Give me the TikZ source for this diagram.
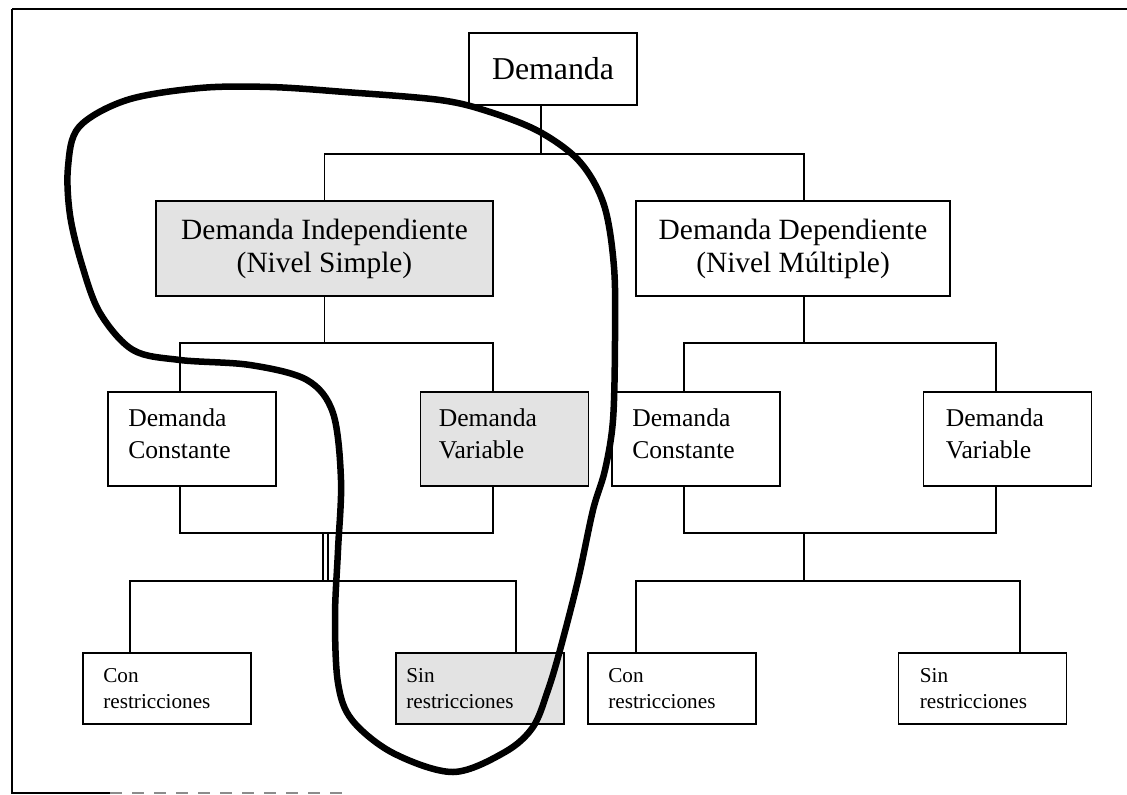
\documentclass[tikz,border=0pt]{standalone}
\usepackage{fontspec}
\setmainfont{Liberation Serif}
\usetikzlibrary{calc}
\tikzset{
  box/.style={draw=black, line width=1.7pt, inner sep=0pt, fill=white},
  shaded/.style={fill=black!11},
  conn/.style={draw=black, line width=1.5pt},
  txtA/.style={font=\fontsize{31.8}{38}\selectfont},
  txtB/.style={font=\fontsize{29.4}{33}\selectfont, align=center},
  txtC/.style={font=\fontsize{25.6}{32}\selectfont, align=left, inner sep=0pt, anchor=north west},
  txtD/.style={font=\fontsize{21.2}{25.5}\selectfont, align=left, inner sep=0pt, anchor=north west},
  lvlC/.style={box, minimum width=168pt, minimum height=94pt},
  lvlD/.style={box, minimum width=168pt, minimum height=71pt},
  loop/.style={draw=black, line width=6.5pt, line join=round}
}
\begin{document}
\begin{tikzpicture}[x=1pt, y=-1pt]
\useasboundingbox (0,0) rectangle (1127,795);
% frame
\draw[line width=1.8pt] (12,9) -- (1127,9);
\draw[line width=1.8pt] (12,9) -- (12,793) -- (110,793);
\draw[line width=1.5pt, black!45, dash pattern=on 12pt off 10pt] (110,793) -- (350,793);

% level 1
\node[box, minimum width=168pt, minimum height=72pt, txtA] (dem) at (553,69) {Demanda};
% level 2
\node[box, shaded, minimum width=337pt, minimum height=95pt, txtB] (di) at (324.5,248.5) {Demanda Independiente\\(Nivel Simple)};
\node[box, minimum width=314pt, minimum height=95pt, txtB] (dd) at (793,248.5) {Demanda Dependiente\\(Nivel Múltiple)};
% level 3
\node[lvlC] (dc1) at (192,439) {};
\node[lvlC, shaded] (dv1) at (504.5,439) {};
\node[lvlC] (dc2) at (696,439) {};
\node[lvlC] (dv2) at (1007.5,439) {};
\node[txtC] (dc1t) at ($(dc1.north west)+(21,17.5)$) {Demanda\\Constante};
\node[txtC] (dv1t) at ($(dv1.north west)+(19,17.5)$) {Demanda\\Variable};
\node[txtC] (dc2t) at ($(dc2.north west)+(21,17.5)$) {Demanda\\Constante};
\node[txtC] (dv2t) at ($(dv2.north west)+(23,17.5)$) {Demanda\\Variable};
% level 4
\node[lvlD] (con1) at (167,688.5) {};
\node[lvlD, shaded] (sin1) at (480,688.5) {};
\node[lvlD] (con2) at (672,688.5) {};
\node[lvlD] (sin2) at (982.5,688.5) {};
\node[txtD] (con1t) at ($(con1.north west)+(21,16.5)$) {Con\\restricciones};
\node[txtD] (sin1t) at ($(sin1.north west)+(11,16.5)$) {Sin\\restricciones};
\node[txtD] (con2t) at ($(con2.north west)+(21,16.5)$) {Con\\restricciones};
\node[txtD] (sin2t) at ($(sin2.north west)+(22,16.5)$) {Sin\\restricciones};

% bar levels and ports
\coordinate (y1) at (0,154);
\coordinate (y2) at (0,343);
\coordinate (y3) at (0,533);
\coordinate (y4) at (0,581);
\coordinate (pdem) at ($(dem.south)+(-12,0)$);
\coordinate (pddt) at ($(dd.north)+(11,0)$);
\coordinate (pddb) at ($(dd.south)+(11,0)$);
\coordinate (pdc1t) at ($(dc1.north)+(-12,0)$);
\coordinate (pdc1b) at ($(dc1.south)+(-12,0)$);
\coordinate (pdv1t) at ($(dv1.north)+(-11.5,0)$);
\coordinate (pdv1b) at ($(dv1.south)+(-11.5,0)$);
\coordinate (pdc2t) at ($(dc2.north)+(-12,0)$);
\coordinate (pdc2b) at ($(dc2.south)+(-12,0)$);
\coordinate (pdv2t) at ($(dv2.north)+(-11.5,0)$);
\coordinate (pdv2b) at ($(dv2.south)+(-11.5,0)$);
\coordinate (pcon1) at ($(con1.north)+(-37,0)$);
\coordinate (psin1) at ($(sin1.north)+(36,0)$);
\coordinate (pcon2) at ($(con2.north)+(-36,0)$);
\coordinate (psin2) at ($(sin2.north)+(37.5,0)$);
\coordinate (m1) at (323,0);
\coordinate (m2) at (328,0);
\coordinate (m3) at (804,0);

% connectors
\draw[conn] (pdem) -- (pdem |- y1);
\draw[conn] (di.north) -- (di.north |- y1) -- (pddt |- y1) -- (pddt);
\draw[conn] (di.south) -- (di.south |- y2);
\draw[conn] (pdc1t) -- (pdc1t |- y2) -- (pdv1t |- y2) -- (pdv1t);
\draw[conn] (pddb) -- (pddb |- y2);
\draw[conn] (pdc2t) -- (pdc2t |- y2) -- (pdv2t |- y2) -- (pdv2t);
\draw[conn] (pdc1b) -- (pdc1b |- y3) -- (pdv1b |- y3) -- (pdv1b);
\draw[conn] (pdc2b) -- (pdc2b |- y3) -- (pdv2b |- y3) -- (pdv2b);
\draw[conn] (m1 |- y3) -- (m1 |- y4);
\draw[conn] (m2 |- y3) -- (m2 |- y4);
\draw[conn] (m3 |- y3) -- (m3 |- y4);
\draw[conn] (pcon1) -- (pcon1 |- y4) -- (psin1 |- y4) -- (psin1);
\draw[conn] (pcon2) -- (pcon2 |- y4) -- (psin2 |- y4) -- (psin2);

% hand-drawn loop
\draw[loop] plot[smooth cycle, tension=0.55] coordinates {
 (79,127) (127,100) (200,88) (270,87) (345,92) (440,100) (490,112)
 (540,132) (580,162) (604,205) (614,267) (615,340) (613,420) (605,470)
 (593,510) (578,580) (560,650) (548,690) (533,727) (505,752) (453,772)
 (393,753) (352,720) (338,683) (335,617) (338,550) (341,480) (333,413)
 (307,380) (250,365) (180,360) (133,350) (100,313) (82,265) (70,215) (68,167)
};
\end{tikzpicture}
\end{document}
